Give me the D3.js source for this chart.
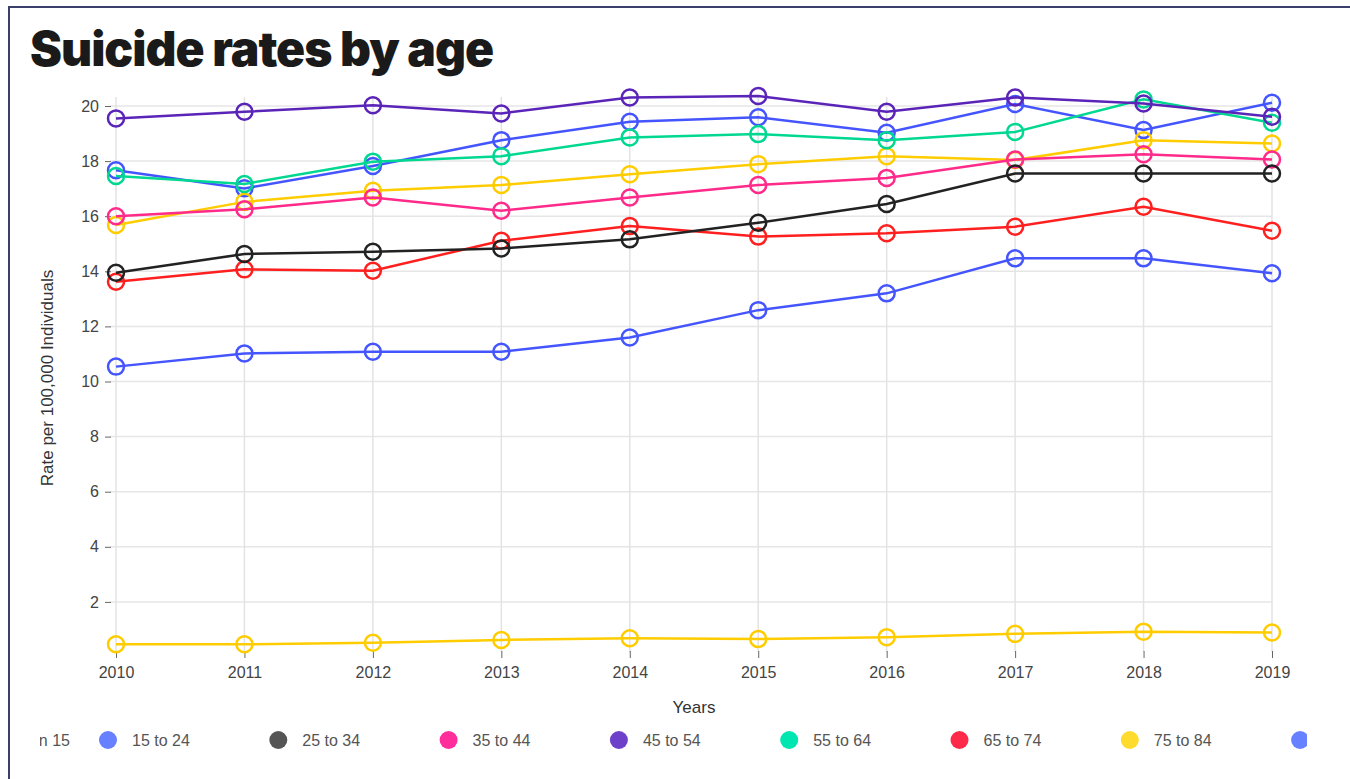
<!DOCTYPE html>
<html>
<head>
<meta charset="utf-8">
<script src="https://cdn.jsdelivr.net/npm/d3@7"></script>
<style>
  body { margin: 0; background: #fff; }
  svg { display: block; font-family: "Liberation Sans", Arial, sans-serif; }
</style>
</head>
<body>
<div id="chart"></div>
<script>
// data
var years = [2010, 2011, 2012, 2013, 2014, 2015, 2016, 2017, 2018, 2019];
var groups = ["Less than 15", "15 to 24", "25 to 34", "35 to 44", "45 to 54", "55 to 64", "65 to 74", "75 to 84", "85+"];
var rates = [
  [0.46, 0.46, 0.52, 0.62, 0.68, 0.65, 0.72, 0.84, 0.92, 0.89],
  [10.54, 11.02, 11.08, 11.08, 11.6, 12.59, 13.2, 14.47, 14.47, 13.93],
  [13.95, 14.63, 14.71, 14.83, 15.16, 15.76, 16.44, 17.55, 17.55, 17.55],
  [16.0, 16.25, 16.68, 16.2, 16.68, 17.13, 17.39, 18.06, 18.25, 18.06],
  [19.55, 19.79, 20.03, 19.73, 20.31, 20.36, 19.79, 20.31, 20.09, 19.61],
  [17.46, 17.17, 17.98, 18.18, 18.86, 18.98, 18.76, 19.06, 20.24, 19.39],
  [13.62, 14.07, 14.02, 15.11, 15.64, 15.26, 15.38, 15.62, 16.34, 15.47],
  [15.68, 16.52, 16.92, 17.13, 17.52, 17.89, 18.18, 18.04, 18.76, 18.64],
  [17.67, 17.01, 17.82, 18.76, 19.43, 19.59, 19.03, 20.07, 19.13, 20.12]
];
var yTicks = [2, 4, 6, 8, 10, 12, 14, 16, 18, 20];

// 7 colours, cycled over the 9 groups
var lineColors = ["#ffcc00", "#4455ff", "#222222", "#ff2a8a", "#5a24b8", "#00d891", "#ff1f1f"];
var dotColors  = ["#ffdb2e", "#6680ff", "#555555", "#ff2e9a", "#6c40c8", "#00e6b0", "#ff2a4a"];

var width = 1350, height = 779;

var svg = d3.select("#chart").append("svg")
    .attr("width", width)
    .attr("height", height);

// frame
svg.append("line").attr("x1", 8).attr("x2", width).attr("y1", 7).attr("y2", 7)
    .attr("stroke", "#3b3f6b").attr("stroke-width", 2);
svg.append("line").attr("x1", 9).attr("x2", 9).attr("y1", 7).attr("y2", height)
    .attr("stroke", "#3b3f6b").attr("stroke-width", 2);

// title
svg.append("text")
    .attr("x", 30).attr("y", 66)
    .style("font-family", "Inter, 'Noto Sans', sans-serif")
    .style("font-weight", 900)
    .style("font-size", "48px")
    .style("letter-spacing", "-1px")
    .attr("fill", "#1a1a1a")
    .text("Suicide rates by age");

var x = d3.scaleLinear().domain([2010, 2019]).range([116, 1272]);
var y = d3.scaleLinear().domain([0, 20]).range([657, 106]);

// grid
svg.append("g").selectAll("line").data(yTicks).join("line")
    .attr("x1", 110).attr("x2", x(2019))
    .attr("y1", d => y(d)).attr("y2", d => y(d))
    .attr("stroke", "#e6e6e6").attr("stroke-width", 1.5);
svg.append("g").selectAll("line").data(years).join("line")
    .attr("x1", d => x(d)).attr("x2", d => x(d))
    .attr("y1", 97).attr("y2", 652)
    .attr("stroke", "#e3e3e3").attr("stroke-width", 1.5);

// y axis
var yAxis = svg.append("g")
    .attr("transform", "translate(111,0)")
    .call(d3.axisLeft(y).tickValues(yTicks).tickSize(6).tickPadding(6));
yAxis.select(".domain").remove();
yAxis.selectAll(".tick line").attr("stroke", "#666");
yAxis.selectAll(".tick text").attr("fill", "#444")
    .style("font-size", "16px").style("font-family", "'Liberation Sans', Arial, sans-serif");

// x axis
var xAxis = svg.append("g")
    .attr("transform", "translate(0,651)")
    .call(d3.axisBottom(x).tickValues(years).tickFormat(d3.format("d")).tickSize(7).tickPadding(9));
xAxis.select(".domain").remove();
xAxis.selectAll(".tick line").attr("stroke", "#666");
xAxis.selectAll(".tick text").attr("fill", "#444")
    .style("font-size", "16px").style("font-family", "'Liberation Sans', Arial, sans-serif");

// axis titles
svg.append("text")
    .attr("transform", "translate(53,378) rotate(-90)")
    .attr("text-anchor", "middle")
    .style("font-size", "17px")
    .attr("fill", "#333")
    .text("Rate per 100,000 Individuals");
svg.append("text")
    .attr("x", 694).attr("y", 713)
    .attr("text-anchor", "middle")
    .style("font-size", "17px")
    .attr("fill", "#333")
    .text("Years");

// series, drawn last-first so the younger groups sit on top
var series = groups.map((g, i) => ({
  name: g,
  color: lineColors[i % lineColors.length],
  values: years.map((yr, j) => ({ year: yr, rate: rates[i][j] }))
})).reverse();

var line = d3.line().x(d => x(d.year)).y(d => y(d.rate));

var sg = svg.append("g").selectAll("g").data(series).join("g");
sg.append("path")
    .attr("d", d => line(d.values))
    .attr("fill", "none")
    .attr("stroke", d => d.color)
    .attr("stroke-width", 2.5);
sg.selectAll("circle").data(d => d.values.map(v => Object.assign({ color: d.color }, v))).join("circle")
    .attr("cx", d => x(d.year))
    .attr("cy", d => y(d.rate))
    .attr("r", 8)
    .attr("fill", "none")
    .attr("stroke", d => d.color)
    .attr("stroke-width", 2.5);

// legend (scrolled strip, clipped both ends)
svg.append("defs").append("clipPath").attr("id", "legclip")
    .append("rect").attr("x", 40).attr("y", 720).attr("width", 1267).attr("height", 40);

var legX = d3.scaleLinear().domain([1, 2]).range([108, 278.3]);
var leg = svg.append("g").attr("clip-path", "url(#legclip)")
    .selectAll("g").data(groups).join("g")
    .attr("transform", (d, i) => "translate(" + (i === 0 ? legX(1) - 62 : legX(i)) + ",740)");
leg.filter((d, i) => i > 0).append("circle")
    .attr("r", 9)
    .attr("fill", (d, i) => dotColors[(i + 1) % dotColors.length]);
leg.append("text")
    .attr("x", 24)
    .attr("text-anchor", (d, i) => i === 0 ? "end" : "start")
    .attr("dy", "0.35em")
    .style("font-size", "16px")
    .attr("fill", "#555")
    .text(d => d);
</script>
</body>
</html>
